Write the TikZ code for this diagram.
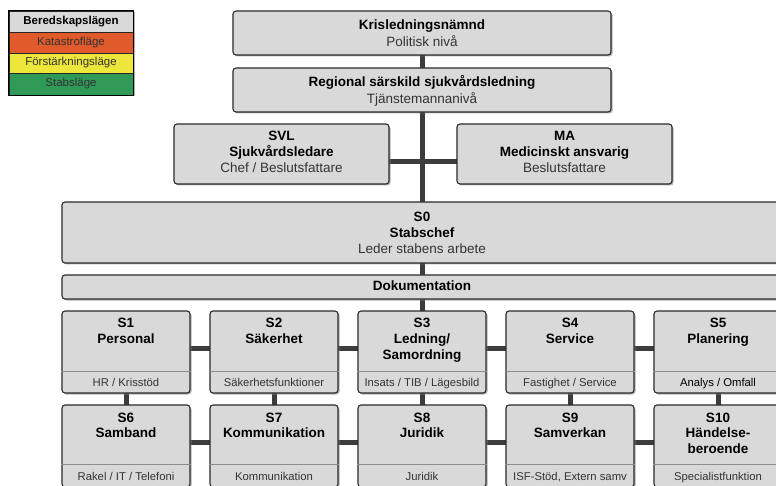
\documentclass[tikz,border=0pt]{standalone}
\usepackage{fontspec}
\setmainfont{Liberation Sans}
\usetikzlibrary{shadows,backgrounds}
\definecolor{boxfill}{HTML}{D9D9D9}
\definecolor{boxline}{HTML}{2B2B2B}
\definecolor{connc}{HTML}{3C3C3C}
\definecolor{subc}{HTML}{333333}
\definecolor{katc}{HTML}{E05A2B}
\definecolor{forc}{HTML}{EDE73C}
\definecolor{stabc}{HTML}{2F9A58}
\tikzset{
  box/.style={draw=boxline, line width=1.1pt, fill=boxfill, rounded corners=3pt,
    inner sep=0pt, drop shadow={shadow xshift=1.5pt, shadow yshift=-1.5pt, fill=black!50, opacity=0.6}},
  ttl/.style={anchor=base, inner sep=0pt, font=\fontsize{13.5}{16}\selectfont\bfseries, text=black},
  sub/.style={anchor=base, inner sep=0pt, font=\fontsize{13.5}{16}\selectfont, text=subc},
  low/.style={anchor=base, inner sep=0pt, font=\fontsize{11.3}{14}\selectfont, text=subc},
  divider/.style={draw=black!45, line width=0.8pt},
  conn/.style={draw=connc, line width=5pt},
  legcell/.style={draw=black!85, line width=0.9pt, inner sep=0pt, minimum width=124pt, text=subc,
    font=\fontsize{11.5}{14}\selectfont},
}
\begin{document}
\begin{tikzpicture}[x=1pt,y=-1pt]
\useasboundingbox (0,0) rectangle (776,486);
\clip (0,0) rectangle (776,486);

% legend
\node[draw=black, line width=1.4pt, fill=white, inner sep=0pt, minimum width=124pt, minimum height=84pt,
  drop shadow={shadow xshift=1.5pt, shadow yshift=-1.5pt, fill=black!50, opacity=0.6}] (legend) at (71,53) {};
\node[legcell, fill=boxfill, minimum height=21pt, font=\fontsize{11.5}{14}\selectfont\bfseries, text=black] (lh) at (71,21.5) {Beredskapslägen};
\node[legcell, fill=katc, minimum height=21pt] (lk) at (71,42.5) {Katastrofläge};
\node[legcell, fill=forc, minimum height=20pt] (lf) at (71,63) {Förstärkningsläge};
\node[legcell, fill=stabc, minimum height=22pt] (ls) at (71,84) {Stabsläge};
\draw[black, line width=1.4pt] (legend.north west) rectangle (legend.south east);

% top boxes
\node[box, minimum width=378pt, minimum height=44pt] (kris) at (422,33) {};
\node[ttl] (krisT) at (422,30) {Krisledningsnämnd};
\node[sub] (krisS) at (422,47) {Politisk nivå};

\node[box, minimum width=378pt, minimum height=44pt] (reg) at (422,90) {};
\node[ttl] (regT) at (422,86.5) {Regional särskild sjukvårdsledning};
\node[sub] (regS) at (422,103.5) {Tjänstemannanivå};

\node[box, minimum width=215pt, minimum height=60pt] (svl) at (281.5,154) {};
\node[ttl] (svlA) at (281.5,140.5) {SVL};
\node[ttl] (svlB) at (281.5,157) {Sjukvårdsledare};
\node[sub] (svlC) at (281.5,173) {Chef / Beslutsfattare};

\node[box, minimum width=215pt, minimum height=60pt] (ma) at (564.5,154) {};
\node[ttl] (maA) at (564.5,140.5) {MA};
\node[ttl] (maB) at (564.5,157) {Medicinskt ansvarig};
\node[sub] (maC) at (564.5,173) {Beslutsfattare};

\node[box, minimum width=720pt, minimum height=61pt] (s0) at (422,232.5) {};
\node[ttl] (s0A) at (422,221.3) {S0};
\node[ttl] (s0B) at (422,238) {Stabschef};
\node[sub] (s0C) at (422,253.5) {Leder stabens arbete};

\node[box, minimum width=720pt, minimum height=24pt] (dok) at (422,287) {};
\node[ttl] (dokT) at (422,290.3) {Dokumentation};

% rows
\foreach \n/\x in {s1/126,s2/274,s3/422,s4/570,s5/718}{
  \node[box, minimum width=128pt, minimum height=82pt] (\n) at (\x,352) {};
  \draw[divider] (\n.west |- 0,371) -- (\n.east |- 0,371);
}
\foreach \n/\x in {s6/126,s7/274,s8/422,s9/570,s10/718}{
  \node[box, minimum width=128pt, minimum height=82pt] (\n) at (\x,446) {};
  \draw[divider] (\n.west |- 0,464.5) -- (\n.east |- 0,464.5);
}

\node[ttl] (s1A) at (126,327) {S1};
\node[ttl] (s1B) at (126,343.3) {Personal};
\node[low] (s1C) at (126,386) {HR / Krisstöd};

\node[ttl] (s2A) at (274,327) {S2};
\node[ttl] (s2B) at (274,343.3) {Säkerhet};
\node[low] (s2C) at (274,386) {Säkerhetsfunktioner};

\node[ttl] (s3A) at (422,327) {S3};
\node[ttl] (s3B) at (422,343.3) {Ledning/};
\node[ttl] (s3D) at (422,359.3) {Samordning};
\node[low] (s3C) at (422,386) {Insats / TIB / Lägesbild};

\node[ttl] (s4A) at (570,327) {S4};
\node[ttl] (s4B) at (570,343.3) {Service};
\node[low] (s4C) at (570,386) {Fastighet / Service};

\node[ttl] (s5A) at (718,327) {S5};
\node[ttl] (s5B) at (718,343.3) {Planering};
\node[low, text=black] (s5C) at (718,386) {Analys / Omfall};

\node[ttl] (s6A) at (126,422.3) {S6};
\node[ttl] (s6B) at (126,437.7) {Samband};
\node[low] (s6C) at (126,480) {Rakel / IT / Telefoni};

\node[ttl] (s7A) at (274,422.3) {S7};
\node[ttl] (s7B) at (274,437.7) {Kommunikation};
\node[low] (s7C) at (274,480) {Kommunikation};

\node[ttl] (s8A) at (422,422.3) {S8};
\node[ttl] (s8B) at (422,437.7) {Juridik};
\node[low] (s8C) at (422,480) {Juridik};

\node[ttl] (s9A) at (570,422.3) {S9};
\node[ttl] (s9B) at (570,437.7) {Samverkan};
\node[low] (s9C) at (570,480) {ISF-Stöd, Extern samv};

\node[ttl] (s10A) at (718,422.3) {S10};
\node[ttl] (s10B) at (718,437.7) {Händelse-};
\node[ttl] (s10D) at (718,453.3) {beroende};
\node[low] (s10C) at (718,480) {Specialistfunktion};

% connectors
\begin{scope}[on background layer]
\fill[white] (0,0) rectangle (776,486);
\draw[conn] (kris.center) -- (s3.center);
\draw[conn] ([yshift=-8pt]svl.center) -- ([yshift=-8pt]ma.center);
\draw[conn] ([yshift=4pt]s1.center) -- ([yshift=4pt]s5.center);
\draw[conn] ([yshift=4pt]s6.center) -- ([yshift=4pt]s10.center);
\draw[conn] (s1.center) -- (s6.center);
\draw[conn] (s2.center) -- (s7.center);
\draw[conn] (s3.center) -- (s8.center);
\draw[conn] (s4.center) -- (s9.center);
\draw[conn] (s5.center) -- (s10.center);
\end{scope}
\end{tikzpicture}
\end{document}
